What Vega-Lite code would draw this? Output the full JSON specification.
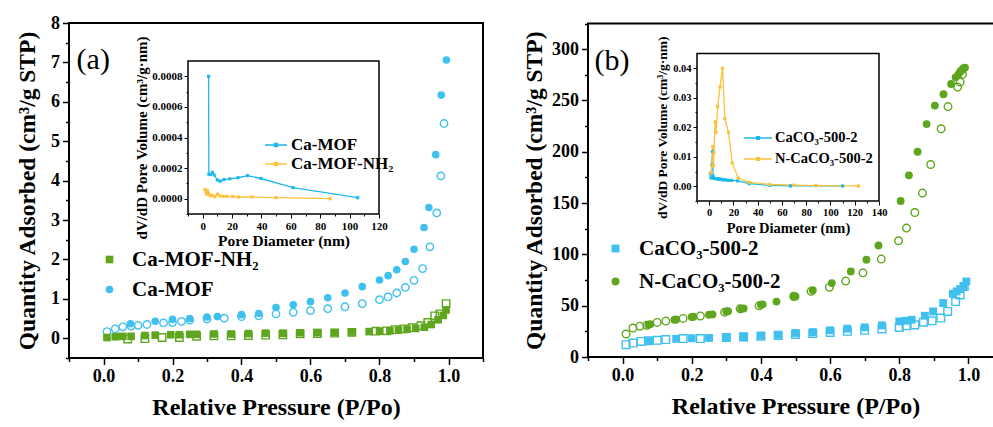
{
  "$schema": "https://vega.github.io/schema/vega-lite/v6.json",
  "width": 993,
  "height": 427,
  "autosize": "none",
  "padding": 0,
  "background": "white",
  "config": {
    "view": {"stroke": null},
    "axis": {"labelFont": "Liberation Serif", "titleFont": "Liberation Serif", "labelColor": "black", "titleColor": "black", "tickColor": "black", "labelFontWeight": "bold", "titleFontWeight": "bold", "grid": false, "domain": false, "labelFlush": false, "labelOverlap": false},
    "legend": {"labelFont": "Liberation Serif", "labelFontWeight": "bold", "labelColor": "black", "padding": 0}
  },
  "datasets": {
    "mainA": [
      {"p":0.078,"q":0.37,"s":"Ca-MOF","b":"ads"},{"p":0.15,"q":0.43,"s":"Ca-MOF","b":"ads"},{"p":0.20,"q":0.48,"s":"Ca-MOF","b":"ads"},{"p":0.25,"q":0.50,"s":"Ca-MOF","b":"ads"},{"p":0.30,"q":0.54,"s":"Ca-MOF","b":"ads"},{"p":0.33,"q":0.55,"s":"Ca-MOF","b":"ads"},{"p":0.40,"q":0.60,"s":"Ca-MOF","b":"ads"},{"p":0.45,"q":0.63,"s":"Ca-MOF","b":"ads"},{"p":0.50,"q":0.78,"s":"Ca-MOF","b":"ads"},{"p":0.55,"q":0.85,"s":"Ca-MOF","b":"ads"},{"p":0.60,"q":0.93,"s":"Ca-MOF","b":"ads"},{"p":0.65,"q":1.03,"s":"Ca-MOF","b":"ads"},{"p":0.70,"q":1.15,"s":"Ca-MOF","b":"ads"},{"p":0.75,"q":1.31,"s":"Ca-MOF","b":"ads"},{"p":0.80,"q":1.48,"s":"Ca-MOF","b":"ads"},{"p":0.825,"q":1.59,"s":"Ca-MOF","b":"ads"},{"p":0.85,"q":1.74,"s":"Ca-MOF","b":"ads"},{"p":0.875,"q":1.95,"s":"Ca-MOF","b":"ads"},{"p":0.90,"q":2.26,"s":"Ca-MOF","b":"ads"},{"p":0.929,"q":2.81,"s":"Ca-MOF","b":"ads"},{"p":0.943,"q":3.32,"s":"Ca-MOF","b":"ads"},{"p":0.963,"q":4.66,"s":"Ca-MOF","b":"ads"},{"p":0.979,"q":6.17,"s":"Ca-MOF","b":"ads"},{"p":0.994,"q":7.06,"s":"Ca-MOF","b":"ads"},
      {"p":0.01,"q":0.17,"s":"Ca-MOF","b":"des"},{"p":0.034,"q":0.24,"s":"Ca-MOF","b":"des"},{"p":0.056,"q":0.29,"s":"Ca-MOF","b":"des"},{"p":0.08,"q":0.31,"s":"Ca-MOF","b":"des"},{"p":0.10,"q":0.33,"s":"Ca-MOF","b":"des"},{"p":0.126,"q":0.35,"s":"Ca-MOF","b":"des"},{"p":0.174,"q":0.39,"s":"Ca-MOF","b":"des"},{"p":0.20,"q":0.40,"s":"Ca-MOF","b":"des"},{"p":0.226,"q":0.43,"s":"Ca-MOF","b":"des"},{"p":0.25,"q":0.46,"s":"Ca-MOF","b":"des"},{"p":0.30,"q":0.49,"s":"Ca-MOF","b":"des"},{"p":0.35,"q":0.51,"s":"Ca-MOF","b":"des"},{"p":0.40,"q":0.55,"s":"Ca-MOF","b":"des"},{"p":0.45,"q":0.57,"s":"Ca-MOF","b":"des"},{"p":0.50,"q":0.62,"s":"Ca-MOF","b":"des"},{"p":0.55,"q":0.66,"s":"Ca-MOF","b":"des"},{"p":0.60,"q":0.70,"s":"Ca-MOF","b":"des"},{"p":0.65,"q":0.75,"s":"Ca-MOF","b":"des"},{"p":0.70,"q":0.80,"s":"Ca-MOF","b":"des"},{"p":0.75,"q":0.88,"s":"Ca-MOF","b":"des"},{"p":0.80,"q":0.98,"s":"Ca-MOF","b":"des"},{"p":0.825,"q":1.05,"s":"Ca-MOF","b":"des"},{"p":0.85,"q":1.15,"s":"Ca-MOF","b":"des"},{"p":0.875,"q":1.29,"s":"Ca-MOF","b":"des"},{"p":0.90,"q":1.47,"s":"Ca-MOF","b":"des"},{"p":0.925,"q":1.77,"s":"Ca-MOF","b":"des"},{"p":0.946,"q":2.32,"s":"Ca-MOF","b":"des"},{"p":0.966,"q":3.18,"s":"Ca-MOF","b":"des"},{"p":0.978,"q":4.12,"s":"Ca-MOF","b":"des"},{"p":0.987,"q":5.45,"s":"Ca-MOF","b":"des"},
      {"p":0.01,"q":0.02,"s":"Ca-MOF-NH₂","b":"ads"},{"p":0.034,"q":0.04,"s":"Ca-MOF-NH₂","b":"ads"},{"p":0.056,"q":0.05,"s":"Ca-MOF-NH₂","b":"ads"},{"p":0.08,"q":0.05,"s":"Ca-MOF-NH₂","b":"ads"},{"p":0.12,"q":0.07,"s":"Ca-MOF-NH₂","b":"ads"},{"p":0.15,"q":0.08,"s":"Ca-MOF-NH₂","b":"ads"},{"p":0.195,"q":0.09,"s":"Ca-MOF-NH₂","b":"ads"},{"p":0.22,"q":0.09,"s":"Ca-MOF-NH₂","b":"ads"},{"p":0.25,"q":0.10,"s":"Ca-MOF-NH₂","b":"ads"},{"p":0.27,"q":0.10,"s":"Ca-MOF-NH₂","b":"ads"},{"p":0.32,"q":0.11,"s":"Ca-MOF-NH₂","b":"ads"},{"p":0.37,"q":0.11,"s":"Ca-MOF-NH₂","b":"ads"},{"p":0.42,"q":0.12,"s":"Ca-MOF-NH₂","b":"ads"},{"p":0.47,"q":0.13,"s":"Ca-MOF-NH₂","b":"ads"},{"p":0.52,"q":0.13,"s":"Ca-MOF-NH₂","b":"ads"},{"p":0.57,"q":0.14,"s":"Ca-MOF-NH₂","b":"ads"},{"p":0.62,"q":0.15,"s":"Ca-MOF-NH₂","b":"ads"},{"p":0.67,"q":0.15,"s":"Ca-MOF-NH₂","b":"ads"},{"p":0.72,"q":0.16,"s":"Ca-MOF-NH₂","b":"ads"},{"p":0.77,"q":0.17,"s":"Ca-MOF-NH₂","b":"ads"},{"p":0.80,"q":0.18,"s":"Ca-MOF-NH₂","b":"ads"},{"p":0.83,"q":0.19,"s":"Ca-MOF-NH₂","b":"ads"},{"p":0.855,"q":0.21,"s":"Ca-MOF-NH₂","b":"ads"},{"p":0.88,"q":0.23,"s":"Ca-MOF-NH₂","b":"ads"},{"p":0.905,"q":0.25,"s":"Ca-MOF-NH₂","b":"ads"},{"p":0.93,"q":0.28,"s":"Ca-MOF-NH₂","b":"ads"},{"p":0.95,"q":0.35,"s":"Ca-MOF-NH₂","b":"ads"},{"p":0.97,"q":0.47,"s":"Ca-MOF-NH₂","b":"ads"},{"p":0.985,"q":0.58,"s":"Ca-MOF-NH₂","b":"ads"},{"p":0.993,"q":0.72,"s":"Ca-MOF-NH₂","b":"ads"},
      {"p":0.07,"q":-0.02,"s":"Ca-MOF-NH₂","b":"des"},{"p":0.12,"q":-0.01,"s":"Ca-MOF-NH₂","b":"des"},{"p":0.17,"q":0.02,"s":"Ca-MOF-NH₂","b":"des"},{"p":0.22,"q":0.02,"s":"Ca-MOF-NH₂","b":"des"},{"p":0.27,"q":0.05,"s":"Ca-MOF-NH₂","b":"des"},{"p":0.32,"q":0.06,"s":"Ca-MOF-NH₂","b":"des"},{"p":0.37,"q":0.06,"s":"Ca-MOF-NH₂","b":"des"},{"p":0.42,"q":0.07,"s":"Ca-MOF-NH₂","b":"des"},{"p":0.47,"q":0.08,"s":"Ca-MOF-NH₂","b":"des"},{"p":0.52,"q":0.09,"s":"Ca-MOF-NH₂","b":"des"},{"p":0.57,"q":0.11,"s":"Ca-MOF-NH₂","b":"des"},{"p":0.62,"q":0.12,"s":"Ca-MOF-NH₂","b":"des"},{"p":0.67,"q":0.13,"s":"Ca-MOF-NH₂","b":"des"},{"p":0.72,"q":0.15,"s":"Ca-MOF-NH₂","b":"des"},{"p":0.79,"q":0.18,"s":"Ca-MOF-NH₂","b":"des"},{"p":0.82,"q":0.19,"s":"Ca-MOF-NH₂","b":"des"},{"p":0.845,"q":0.22,"s":"Ca-MOF-NH₂","b":"des"},{"p":0.87,"q":0.24,"s":"Ca-MOF-NH₂","b":"des"},{"p":0.895,"q":0.27,"s":"Ca-MOF-NH₂","b":"des"},{"p":0.92,"q":0.32,"s":"Ca-MOF-NH₂","b":"des"},{"p":0.94,"q":0.40,"s":"Ca-MOF-NH₂","b":"des"},{"p":0.96,"q":0.57,"s":"Ca-MOF-NH₂","b":"des"},{"p":0.975,"q":0.62,"s":"Ca-MOF-NH₂","b":"des"},{"p":0.993,"q":0.88,"s":"Ca-MOF-NH₂","b":"des"}
    ],
    "mainB": [
      {"p":0.075,"q":31.5,"s":"N-CaCO₃-500-2","b":"ads"},{"p":0.08,"q":32,"s":"N-CaCO₃-500-2","b":"ads"},{"p":0.15,"q":36.3,"s":"N-CaCO₃-500-2","b":"ads"},{"p":0.155,"q":36.5,"s":"N-CaCO₃-500-2","b":"ads"},{"p":0.20,"q":39,"s":"N-CaCO₃-500-2","b":"ads"},{"p":0.205,"q":39.2,"s":"N-CaCO₃-500-2","b":"ads"},{"p":0.25,"q":41.2,"s":"N-CaCO₃-500-2","b":"ads"},{"p":0.26,"q":41.5,"s":"N-CaCO₃-500-2","b":"ads"},{"p":0.30,"q":44.4,"s":"N-CaCO₃-500-2","b":"ads"},{"p":0.305,"q":44.6,"s":"N-CaCO₃-500-2","b":"ads"},{"p":0.343,"q":47,"s":"N-CaCO₃-500-2","b":"ads"},{"p":0.35,"q":47.3,"s":"N-CaCO₃-500-2","b":"ads"},{"p":0.40,"q":51,"s":"N-CaCO₃-500-2","b":"ads"},{"p":0.405,"q":51.3,"s":"N-CaCO₃-500-2","b":"ads"},{"p":0.445,"q":54,"s":"N-CaCO₃-500-2","b":"ads"},{"p":0.495,"q":59.7,"s":"N-CaCO₃-500-2","b":"ads"},{"p":0.50,"q":59,"s":"N-CaCO₃-500-2","b":"ads"},{"p":0.55,"q":65,"s":"N-CaCO₃-500-2","b":"ads"},{"p":0.605,"q":72,"s":"N-CaCO₃-500-2","b":"ads"},{"p":0.66,"q":83.4,"s":"N-CaCO₃-500-2","b":"ads"},{"p":0.705,"q":94.8,"s":"N-CaCO₃-500-2","b":"ads"},{"p":0.74,"q":108.7,"s":"N-CaCO₃-500-2","b":"ads"},{"p":0.804,"q":152,"s":"N-CaCO₃-500-2","b":"ads"},{"p":0.828,"q":177,"s":"N-CaCO₃-500-2","b":"ads"},{"p":0.853,"q":200,"s":"N-CaCO₃-500-2","b":"ads"},{"p":0.879,"q":227,"s":"N-CaCO₃-500-2","b":"ads"},{"p":0.903,"q":245,"s":"N-CaCO₃-500-2","b":"ads"},{"p":0.928,"q":256,"s":"N-CaCO₃-500-2","b":"ads"},{"p":0.95,"q":266,"s":"N-CaCO₃-500-2","b":"ads"},{"p":0.963,"q":272.5,"s":"N-CaCO₃-500-2","b":"ads"},{"p":0.971,"q":275.4,"s":"N-CaCO₃-500-2","b":"ads"},{"p":0.976,"q":278,"s":"N-CaCO₃-500-2","b":"ads"},{"p":0.981,"q":279.8,"s":"N-CaCO₃-500-2","b":"ads"},{"p":0.986,"q":281.4,"s":"N-CaCO₃-500-2","b":"ads"},{"p":0.99,"q":282,"s":"N-CaCO₃-500-2","b":"ads"},
      {"p":0.01,"q":22.4,"s":"N-CaCO₃-500-2","b":"des"},{"p":0.03,"q":28.2,"s":"N-CaCO₃-500-2","b":"des"},{"p":0.05,"q":30,"s":"N-CaCO₃-500-2","b":"des"},{"p":0.07,"q":31,"s":"N-CaCO₃-500-2","b":"des"},{"p":0.10,"q":33.7,"s":"N-CaCO₃-500-2","b":"des"},{"p":0.125,"q":35,"s":"N-CaCO₃-500-2","b":"des"},{"p":0.175,"q":37.6,"s":"N-CaCO₃-500-2","b":"des"},{"p":0.225,"q":40,"s":"N-CaCO₃-500-2","b":"des"},{"p":0.295,"q":43.7,"s":"N-CaCO₃-500-2","b":"des"},{"p":0.34,"q":46.9,"s":"N-CaCO₃-500-2","b":"des"},{"p":0.395,"q":50,"s":"N-CaCO₃-500-2","b":"des"},{"p":0.495,"q":59,"s":"N-CaCO₃-500-2","b":"des"},{"p":0.545,"q":64,"s":"N-CaCO₃-500-2","b":"des"},{"p":0.598,"q":68,"s":"N-CaCO₃-500-2","b":"des"},{"p":0.645,"q":74,"s":"N-CaCO₃-500-2","b":"des"},{"p":0.695,"q":82,"s":"N-CaCO₃-500-2","b":"des"},{"p":0.748,"q":95.4,"s":"N-CaCO₃-500-2","b":"des"},{"p":0.798,"q":113.3,"s":"N-CaCO₃-500-2","b":"des"},{"p":0.821,"q":125.6,"s":"N-CaCO₃-500-2","b":"des"},{"p":0.845,"q":140.8,"s":"N-CaCO₃-500-2","b":"des"},{"p":0.867,"q":159.7,"s":"N-CaCO₃-500-2","b":"des"},{"p":0.891,"q":187.6,"s":"N-CaCO₃-500-2","b":"des"},{"p":0.921,"q":222.4,"s":"N-CaCO₃-500-2","b":"des"},{"p":0.941,"q":244,"s":"N-CaCO₃-500-2","b":"des"},{"p":0.969,"q":263,"s":"N-CaCO₃-500-2","b":"des"},{"p":0.976,"q":268,"s":"N-CaCO₃-500-2","b":"des"},{"p":0.983,"q":275.4,"s":"N-CaCO₃-500-2","b":"des"},
      {"p":0.075,"q":15.5,"s":"CaCO₃-500-2","b":"ads"},{"p":0.155,"q":17.7,"s":"CaCO₃-500-2","b":"ads"},{"p":0.20,"q":18.3,"s":"CaCO₃-500-2","b":"ads"},{"p":0.25,"q":18.6,"s":"CaCO₃-500-2","b":"ads"},{"p":0.30,"q":19.5,"s":"CaCO₃-500-2","b":"ads"},{"p":0.35,"q":20.1,"s":"CaCO₃-500-2","b":"ads"},{"p":0.40,"q":20.8,"s":"CaCO₃-500-2","b":"ads"},{"p":0.45,"q":21.8,"s":"CaCO₃-500-2","b":"ads"},{"p":0.50,"q":23.4,"s":"CaCO₃-500-2","b":"ads"},{"p":0.55,"q":24.3,"s":"CaCO₃-500-2","b":"ads"},{"p":0.60,"q":26,"s":"CaCO₃-500-2","b":"ads"},{"p":0.65,"q":27.6,"s":"CaCO₃-500-2","b":"ads"},{"p":0.70,"q":28.9,"s":"CaCO₃-500-2","b":"ads"},{"p":0.75,"q":30.8,"s":"CaCO₃-500-2","b":"ads"},{"p":0.80,"q":34.7,"s":"CaCO₃-500-2","b":"ads"},{"p":0.817,"q":35.3,"s":"CaCO₃-500-2","b":"ads"},{"p":0.836,"q":36.3,"s":"CaCO₃-500-2","b":"ads"},{"p":0.874,"q":40.2,"s":"CaCO₃-500-2","b":"ads"},{"p":0.898,"q":44.4,"s":"CaCO₃-500-2","b":"ads"},{"p":0.927,"q":52.6,"s":"CaCO₃-500-2","b":"ads"},{"p":0.955,"q":61.6,"s":"CaCO₃-500-2","b":"ads"},{"p":0.966,"q":63.9,"s":"CaCO₃-500-2","b":"ads"},{"p":0.976,"q":66.2,"s":"CaCO₃-500-2","b":"ads"},{"p":0.986,"q":68.8,"s":"CaCO₃-500-2","b":"ads"},{"p":0.994,"q":73.6,"s":"CaCO₃-500-2","b":"ads"},
      {"p":0.01,"q":12,"s":"CaCO₃-500-2","b":"des"},{"p":0.03,"q":13.6,"s":"CaCO₃-500-2","b":"des"},{"p":0.053,"q":15.2,"s":"CaCO₃-500-2","b":"des"},{"p":0.075,"q":15.9,"s":"CaCO₃-500-2","b":"des"},{"p":0.10,"q":16.3,"s":"CaCO₃-500-2","b":"des"},{"p":0.125,"q":17,"s":"CaCO₃-500-2","b":"des"},{"p":0.175,"q":18,"s":"CaCO₃-500-2","b":"des"},{"p":0.225,"q":18,"s":"CaCO₃-500-2","b":"des"},{"p":0.30,"q":19,"s":"CaCO₃-500-2","b":"des"},{"p":0.35,"q":19.5,"s":"CaCO₃-500-2","b":"des"},{"p":0.40,"q":20.2,"s":"CaCO₃-500-2","b":"des"},{"p":0.45,"q":21,"s":"CaCO₃-500-2","b":"des"},{"p":0.50,"q":22,"s":"CaCO₃-500-2","b":"des"},{"p":0.55,"q":23,"s":"CaCO₃-500-2","b":"des"},{"p":0.60,"q":24,"s":"CaCO₃-500-2","b":"des"},{"p":0.65,"q":25,"s":"CaCO₃-500-2","b":"des"},{"p":0.70,"q":26,"s":"CaCO₃-500-2","b":"des"},{"p":0.75,"q":27.4,"s":"CaCO₃-500-2","b":"des"},{"p":0.80,"q":28.8,"s":"CaCO₃-500-2","b":"des"},{"p":0.82,"q":30.4,"s":"CaCO₃-500-2","b":"des"},{"p":0.845,"q":31.3,"s":"CaCO₃-500-2","b":"des"},{"p":0.87,"q":33.9,"s":"CaCO₃-500-2","b":"des"},{"p":0.895,"q":35.3,"s":"CaCO₃-500-2","b":"des"},{"p":0.92,"q":37.9,"s":"CaCO₃-500-2","b":"des"},{"p":0.94,"q":44.4,"s":"CaCO₃-500-2","b":"des"},{"p":0.963,"q":54,"s":"CaCO₃-500-2","b":"des"},{"p":0.976,"q":60.5,"s":"CaCO₃-500-2","b":"des"},{"p":0.988,"q":68.6,"s":"CaCO₃-500-2","b":"des"}
    ],
    "insetA": [
      {"d":4.0,"v":0.0008,"s":"Ca-MOF"},{"d":4.2,"v":0.00016,"s":"Ca-MOF"},{"d":5.3,"v":0.000158,"s":"Ca-MOF"},{"d":6.6,"v":0.000172,"s":"Ca-MOF"},{"d":7.8,"v":0.000155,"s":"Ca-MOF"},{"d":10,"v":0.000122,"s":"Ca-MOF"},{"d":12,"v":0.000115,"s":"Ca-MOF"},{"d":14.5,"v":0.000125,"s":"Ca-MOF"},{"d":18.5,"v":0.00013,"s":"Ca-MOF"},{"d":24,"v":0.000137,"s":"Ca-MOF"},{"d":30.5,"v":0.000151,"s":"Ca-MOF"},{"d":39.7,"v":0.000132,"s":"Ca-MOF"},{"d":61.5,"v":0.000072,"s":"Ca-MOF"},{"d":105.5,"v":0.0000066,"s":"Ca-MOF"},
      {"d":1.6,"v":0.00006,"s":"Ca-MOF-NH₂"},{"d":2.2,"v":0.000045,"s":"Ca-MOF-NH₂"},{"d":2.8,"v":0.00003,"s":"Ca-MOF-NH₂"},{"d":3.3,"v":0.000052,"s":"Ca-MOF-NH₂"},{"d":4.0,"v":0.000033,"s":"Ca-MOF-NH₂"},{"d":5.0,"v":0.00002,"s":"Ca-MOF-NH₂"},{"d":6.5,"v":0.000022,"s":"Ca-MOF-NH₂"},{"d":8.3,"v":0.000012,"s":"Ca-MOF-NH₂"},{"d":10,"v":0.00003,"s":"Ca-MOF-NH₂"},{"d":11.7,"v":0.000018,"s":"Ca-MOF-NH₂"},{"d":14,"v":0.000016,"s":"Ca-MOF-NH₂"},{"d":16.5,"v":0.000015,"s":"Ca-MOF-NH₂"},{"d":20.5,"v":0.000015,"s":"Ca-MOF-NH₂"},{"d":24.5,"v":0.000011,"s":"Ca-MOF-NH₂"},{"d":33.5,"v":0.000011,"s":"Ca-MOF-NH₂"},{"d":49.8,"v":0.000007,"s":"Ca-MOF-NH₂"},{"d":86.7,"v":0.0,"s":"Ca-MOF-NH₂"}
    ],
    "insetB": [
      {"d":1.0,"v":0.0043,"s":"CaCO₃-500-2"},{"d":1.5,"v":0.0028,"s":"CaCO₃-500-2"},{"d":2.2,"v":0.0072,"s":"CaCO₃-500-2"},{"d":2.8,"v":0.0118,"s":"CaCO₃-500-2"},{"d":3.2,"v":0.0035,"s":"CaCO₃-500-2"},{"d":3.6,"v":0.0028,"s":"CaCO₃-500-2"},{"d":4.2,"v":0.0027,"s":"CaCO₃-500-2"},{"d":5,"v":0.0026,"s":"CaCO₃-500-2"},{"d":6,"v":0.0026,"s":"CaCO₃-500-2"},{"d":7,"v":0.0025,"s":"CaCO₃-500-2"},{"d":8,"v":0.0024,"s":"CaCO₃-500-2"},{"d":9,"v":0.0024,"s":"CaCO₃-500-2"},{"d":10,"v":0.0023,"s":"CaCO₃-500-2"},{"d":11,"v":0.0022,"s":"CaCO₃-500-2"},{"d":12.5,"v":0.0022,"s":"CaCO₃-500-2"},{"d":14,"v":0.0021,"s":"CaCO₃-500-2"},{"d":16,"v":0.002,"s":"CaCO₃-500-2"},{"d":18.5,"v":0.002,"s":"CaCO₃-500-2"},{"d":23.5,"v":0.0018,"s":"CaCO₃-500-2"},{"d":33,"v":0.0009,"s":"CaCO₃-500-2"},{"d":50,"v":0.0003,"s":"CaCO₃-500-2"},{"d":67,"v":0.0001,"s":"CaCO₃-500-2"},{"d":110,"v":0.0001,"s":"CaCO₃-500-2"},
      {"d":1.5,"v":0.0045,"s":"N-CaCO₃-500-2"},{"d":2.5,"v":0.007,"s":"N-CaCO₃-500-2"},{"d":3.0,"v":0.0135,"s":"N-CaCO₃-500-2"},{"d":3.5,"v":0.007,"s":"N-CaCO₃-500-2"},{"d":4.0,"v":0.0115,"s":"N-CaCO₃-500-2"},{"d":5.0,"v":0.0218,"s":"N-CaCO₃-500-2"},{"d":5.6,"v":0.0183,"s":"N-CaCO₃-500-2"},{"d":7.0,"v":0.027,"s":"N-CaCO₃-500-2"},{"d":9.0,"v":0.0337,"s":"N-CaCO₃-500-2"},{"d":11.0,"v":0.04,"s":"N-CaCO₃-500-2"},{"d":13.0,"v":0.0229,"s":"N-CaCO₃-500-2"},{"d":16.0,"v":0.0183,"s":"N-CaCO₃-500-2"},{"d":19.0,"v":0.0079,"s":"N-CaCO₃-500-2"},{"d":24.0,"v":0.0028,"s":"N-CaCO₃-500-2"},{"d":33.0,"v":0.0013,"s":"N-CaCO₃-500-2"},{"d":50.0,"v":0.0006,"s":"N-CaCO₃-500-2"},{"d":70.0,"v":0.0004,"s":"N-CaCO₃-500-2"},{"d":88.0,"v":0.0002,"s":"N-CaCO₃-500-2"},{"d":123.0,"v":0.0001,"s":"N-CaCO₃-500-2"}
    ]
  },
  "layer": [
    {
      "data": {"values": [{}]},
      "mark": {"type": "rect", "fill": "transparent", "stroke": "black", "strokeWidth": 2},
      "encoding": {
        "x": {"datum": -0.1, "type": "quantitative", "scale": {"domain": [-0.1, 1.1], "range": [69, 483], "zero": false, "nice": false},
          "axis": {"orient": "bottom", "offset": -69, "values": [-0.1,0.1,0.3,0.5,0.7,0.9,1.1], "labels": false, "title": null, "tickSize": 3.5, "tickWidth": 1.5}},
        "x2": {"datum": 1.1},
        "y": {"datum": -0.5, "type": "quantitative", "scale": {"domain": [-0.5, 8], "range": [358, 23], "zero": false, "nice": false},
          "axis": {"orient": "left", "offset": -69, "values": [-0.5,0.5,1.5,2.5,3.5,4.5,5.5,6.5,7.5], "labels": false, "title": null, "tickSize": 3.5, "tickWidth": 1.5}},
        "y2": {"datum": 8}
      }
    },
    {
      "data": {"values": [{}]},
      "mark": {"type": "text", "text": "(a)", "font": "Liberation Serif", "fontSize": 30, "align": "left", "baseline": "middle", "color": "black"},
      "encoding": {
        "x": {"datum": -0.078, "type": "quantitative", "scale": {"domain": [-0.1, 1.1], "range": [69, 483], "zero": false, "nice": false}, "axis": null},
        "y": {"datum": 7.05, "type": "quantitative", "scale": {"domain": [-0.5, 8], "range": [358, 23], "zero": false, "nice": false}, "axis": null}
      }
    },
    {
      "data": {"name": "mainA"},
      "transform": [{"filter": "datum.b === 'des'"}],
      "mark": {"type": "point", "filled": false, "strokeWidth": 1.4, "opacity": 1, "size": 55},
      "encoding": {
        "x": {"field": "p", "type": "quantitative", "scale": {"domain": [-0.1, 1.1], "range": [69, 483], "zero": false, "nice": false},
          "axis": {"orient": "bottom", "offset": -69, "values": [0,0.2,0.4,0.6,0.8,1], "format": ".1f", "tickSize": 6.5, "tickWidth": 1.5, "labelFontSize": 18, "labelPadding": 3, "title": "Relative Pressure (P/Po)", "titleFontSize": 24, "titlePadding": 10}},
        "y": {"field": "q", "type": "quantitative", "scale": {"domain": [-0.5, 8], "range": [358, 23], "zero": false, "nice": false},
          "axis": {"orient": "left", "offset": -69, "values": [0,1,2,3,4,5,6,7,8], "format": "d", "tickSize": 6.5, "tickWidth": 1.5, "labelFontSize": 18, "labelPadding": 3, "title": "Quantity Adsorbed (cm³/g STP)", "titleFontSize": 23.5, "titlePadding": 11}},
        "color": {"field": "s", "type": "nominal", "scale": {"domain": ["Ca-MOF-NH₂", "Ca-MOF"], "range": ["#5ea61e", "#40c0ee"]}, "legend": null},
        "shape": {"field": "s", "type": "nominal", "scale": {"domain": ["Ca-MOF-NH₂", "Ca-MOF"], "range": ["square", "circle"]}, "legend": null}
      }
    },
    {
      "data": {"name": "mainA"},
      "transform": [{"filter": "datum.b === 'ads'"}],
      "mark": {"type": "point", "filled": true, "opacity": 1, "size": 58},
      "encoding": {
        "x": {"field": "p", "type": "quantitative", "scale": {"domain": [-0.1, 1.1], "range": [69, 483], "zero": false, "nice": false}, "axis": null},
        "y": {"field": "q", "type": "quantitative", "scale": {"domain": [-0.5, 8], "range": [358, 23], "zero": false, "nice": false}, "axis": null},
        "color": {"field": "s", "type": "nominal", "scale": {"domain": ["Ca-MOF-NH₂", "Ca-MOF"], "range": ["#5ea61e", "#40c0ee"]},
          "legend": {"orient": "none", "legendX": 99, "legendY": 249, "title": null, "labelFontSize": 21, "symbolSize": 58, "labelOffset": 12, "rowPadding": 8, "symbolStrokeWidth": 0}},
        "shape": {"field": "s", "type": "nominal", "scale": {"domain": ["Ca-MOF-NH₂", "Ca-MOF"], "range": ["square", "circle"]},
          "legend": {"orient": "none", "legendX": 99, "legendY": 249, "title": null, "labelFontSize": 21, "symbolSize": 58, "labelOffset": 12, "rowPadding": 8, "symbolStrokeWidth": 0}}
      }
    },
    {
      "data": {"values": [{}]},
      "mark": {"type": "rect", "fill": "white", "stroke": "black", "strokeWidth": 1.5},
      "encoding": {
        "x": {"datum": -10, "type": "quantitative", "scale": {"domain": [-10, 120], "range": [188, 379], "zero": false, "nice": false},
          "axis": {"orient": "bottom", "offset": -213, "values": [-10,10,30,50,70,90,110], "labels": false, "title": null, "tickSize": 2, "tickWidth": 1}},
        "x2": {"datum": 120},
        "y": {"datum": -0.0001, "type": "quantitative", "scale": {"domain": [-0.0001, 0.0009], "range": [214, 61], "zero": false, "nice": false},
          "axis": {"orient": "left", "offset": -188, "values": [-0.0001,0.0001,0.0003,0.0005,0.0007], "labels": false, "title": null, "tickSize": 2, "tickWidth": 1}},
        "y2": {"datum": 0.0009}
      }
    },
    {
      "data": {"name": "insetA"},
      "mark": {"type": "line", "strokeWidth": 1.3},
      "encoding": {
        "x": {"field": "d", "type": "quantitative", "scale": {"domain": [-10, 120], "range": [188, 379], "zero": false, "nice": false},
          "axis": {"orient": "bottom", "offset": -213, "values": [0,20,40,60,80,100,120], "format": "d", "tickSize": 4, "tickWidth": 1, "labelFontSize": 11, "labelPadding": 2, "title": "Pore Diameter (nm)", "titleFontSize": 15.5, "titlePadding": 2}},
        "y": {"field": "v", "type": "quantitative", "scale": {"domain": [-0.0001, 0.0009], "range": [214, 61], "zero": false, "nice": false},
          "axis": {"orient": "left", "offset": -188, "values": [0,0.0002,0.0004,0.0006,0.0008], "format": ".4f", "tickSize": 4, "tickWidth": 1, "labelFontSize": 11, "labelPadding": 2, "title": "dV/dD Pore Volume (cm³/g·nm)", "titleFontSize": 15, "titlePadding": 2}},
        "color": {"field": "s", "type": "nominal", "scale": {"domain": ["Ca-MOF", "Ca-MOF-NH₂"], "range": ["#1db9ec", "#fbc13a"]}, "legend": null}
      }
    },
    {
      "data": {"name": "insetA"},
      "mark": {"type": "point", "filled": true, "shape": "square", "size": 10, "opacity": 1},
      "encoding": {
        "x": {"field": "d", "type": "quantitative", "scale": {"domain": [-10, 120], "range": [188, 379], "zero": false, "nice": false}, "axis": null},
        "y": {"field": "v", "type": "quantitative", "scale": {"domain": [-0.0001, 0.0009], "range": [214, 61], "zero": false, "nice": false}, "axis": null},
        "color": {"field": "s", "type": "nominal", "scale": {"domain": ["Ca-MOF", "Ca-MOF-NH₂"], "range": ["#1db9ec", "#fbc13a"]},
          "legend": {"orient": "none", "legendX": 265, "legendY": 134, "title": null, "labelFontSize": 17, "symbolType": "M-1,-0.065L1,-0.065L1,0.065L-1,0.065Z M-0.2,-0.2L0.2,-0.2L0.2,0.2L-0.2,0.2Z", "symbolSize": 484, "labelOffset": 4, "rowPadding": -5, "symbolStrokeWidth": 0}}
      }
    },
    {
      "data": {"values": [{}]},
      "mark": {"type": "rect", "fill": "transparent", "stroke": "black", "strokeWidth": 2},
      "encoding": {
        "x": {"datum": -0.1, "type": "quantitative", "scale": {"domain": [-0.1, 1.1], "range": [588, 1003], "zero": false, "nice": false},
          "axis": {"orient": "bottom", "offset": -70, "values": [-0.1,0.1,0.3,0.5,0.7,0.9], "labels": false, "title": null, "tickSize": 3.5, "tickWidth": 1.5}},
        "x2": {"datum": 1.1},
        "y": {"datum": 0, "type": "quantitative", "scale": {"domain": [0, 325], "range": [357, 23.5], "zero": false, "nice": false},
          "axis": {"orient": "left", "offset": -588, "values": [25,75,125,175,225,275,325], "labels": false, "title": null, "tickSize": 3.5, "tickWidth": 1.5}},
        "y2": {"datum": 325}
      }
    },
    {
      "data": {"values": [{}]},
      "mark": {"type": "text", "text": "(b)", "font": "Liberation Serif", "fontSize": 30, "align": "left", "baseline": "middle", "color": "black"},
      "encoding": {
        "x": {"datum": -0.081, "type": "quantitative", "scale": {"domain": [-0.1, 1.1], "range": [588, 1003], "zero": false, "nice": false}, "axis": null},
        "y": {"datum": 288, "type": "quantitative", "scale": {"domain": [0, 325], "range": [357, 23.5], "zero": false, "nice": false}, "axis": null}
      }
    },
    {
      "data": {"name": "mainB"},
      "transform": [{"filter": "datum.b === 'des'"}],
      "mark": {"type": "point", "filled": false, "strokeWidth": 1.4, "opacity": 1, "size": 58},
      "encoding": {
        "x": {"field": "p", "type": "quantitative", "scale": {"domain": [-0.1, 1.1], "range": [588, 1003], "zero": false, "nice": false},
          "axis": {"orient": "bottom", "offset": -70, "values": [0,0.2,0.4,0.6,0.8,1], "format": ".1f", "tickSize": 6.5, "tickWidth": 1.5, "labelFontSize": 18, "labelPadding": 3, "title": "Relative Pressure (P/Po)", "titleFontSize": 24, "titlePadding": 10}},
        "y": {"field": "q", "type": "quantitative", "scale": {"domain": [0, 325], "range": [357, 23.5], "zero": false, "nice": false},
          "axis": {"orient": "left", "offset": -588, "values": [0,50,100,150,200,250,300], "format": "d", "tickSize": 6.5, "tickWidth": 1.5, "labelFontSize": 18, "labelPadding": 3, "title": "Quantity Adsorbed (cm³/g STP)", "titleFontSize": 23.5, "titlePadding": 5}},
        "color": {"field": "s", "type": "nominal", "scale": {"domain": ["CaCO₃-500-2", "N-CaCO₃-500-2"], "range": ["#40c0ee", "#5ea61e"]}, "legend": null},
        "shape": {"field": "s", "type": "nominal", "scale": {"domain": ["CaCO₃-500-2", "N-CaCO₃-500-2"], "range": ["square", "circle"]}, "legend": null}
      }
    },
    {
      "data": {"name": "mainB"},
      "transform": [{"filter": "datum.b === 'ads'"}],
      "mark": {"type": "point", "filled": true, "opacity": 1, "size": 62},
      "encoding": {
        "x": {"field": "p", "type": "quantitative", "scale": {"domain": [-0.1, 1.1], "range": [588, 1003], "zero": false, "nice": false}, "axis": null},
        "y": {"field": "q", "type": "quantitative", "scale": {"domain": [0, 325], "range": [357, 23.5], "zero": false, "nice": false}, "axis": null},
        "color": {"field": "s", "type": "nominal", "scale": {"domain": ["CaCO₃-500-2", "N-CaCO₃-500-2"], "range": ["#40c0ee", "#5ea61e"]},
          "legend": {"orient": "none", "legendX": 605, "legendY": 238, "title": null, "labelFontSize": 21, "symbolSize": 62, "labelOffset": 13, "rowPadding": 11, "symbolStrokeWidth": 0}},
        "shape": {"field": "s", "type": "nominal", "scale": {"domain": ["CaCO₃-500-2", "N-CaCO₃-500-2"], "range": ["square", "circle"]},
          "legend": {"orient": "none", "legendX": 605, "legendY": 238, "title": null, "labelFontSize": 21, "symbolSize": 62, "labelOffset": 13, "rowPadding": 11, "symbolStrokeWidth": 0}}
      }
    },
    {
      "data": {"values": [{}]},
      "mark": {"type": "rect", "fill": "white", "stroke": "black", "strokeWidth": 1.5},
      "encoding": {
        "x": {"datum": -10, "type": "quantitative", "scale": {"domain": [-10, 140], "range": [697, 879], "zero": false, "nice": false},
          "axis": {"orient": "bottom", "offset": -226, "values": [-10,10,30,50,70,90,110,130], "labels": false, "title": null, "tickSize": 2, "tickWidth": 1}},
        "x2": {"datum": 140},
        "y": {"datum": -0.005, "type": "quantitative", "scale": {"domain": [-0.005, 0.045], "range": [201, 53.5], "zero": false, "nice": false},
          "axis": {"orient": "left", "offset": -697, "values": [-0.005,0.005,0.015,0.025,0.035], "labels": false, "title": null, "tickSize": 2, "tickWidth": 1}},
        "y2": {"datum": 0.045}
      }
    },
    {
      "data": {"name": "insetB"},
      "mark": {"type": "line", "strokeWidth": 1.3},
      "encoding": {
        "x": {"field": "d", "type": "quantitative", "scale": {"domain": [-10, 140], "range": [697, 879], "zero": false, "nice": false},
          "axis": {"orient": "bottom", "offset": -226, "values": [0,20,40,60,80,100,120,140], "format": "d", "tickSize": 4, "tickWidth": 1, "labelFontSize": 10.5, "labelPadding": 2, "title": "Pore Diameter (nm)", "titleFontSize": 14.5, "titlePadding": 4}},
        "y": {"field": "v", "type": "quantitative", "scale": {"domain": [-0.005, 0.045], "range": [201, 53.5], "zero": false, "nice": false},
          "axis": {"orient": "left", "offset": -697, "values": [0,0.01,0.02,0.03,0.04], "format": ".2f", "tickSize": 4, "tickWidth": 1, "labelFontSize": 10.5, "labelPadding": 2, "title": "dV/dD Pore Volume (cm³/g·nm)", "titleFontSize": 13.5, "titlePadding": 3}},
        "color": {"field": "s", "type": "nominal", "scale": {"domain": ["CaCO₃-500-2", "N-CaCO₃-500-2"], "range": ["#1db9ec", "#fbc13a"]}, "legend": null}
      }
    },
    {
      "data": {"name": "insetB"},
      "mark": {"type": "point", "filled": true, "shape": "square", "size": 10, "opacity": 1},
      "encoding": {
        "x": {"field": "d", "type": "quantitative", "scale": {"domain": [-10, 140], "range": [697, 879], "zero": false, "nice": false}, "axis": null},
        "y": {"field": "v", "type": "quantitative", "scale": {"domain": [-0.005, 0.045], "range": [201, 53.5], "zero": false, "nice": false}, "axis": null},
        "color": {"field": "s", "type": "nominal", "scale": {"domain": ["CaCO₃-500-2", "N-CaCO₃-500-2"], "range": ["#1db9ec", "#fbc13a"]},
          "legend": {"orient": "none", "legendX": 744, "legendY": 124, "title": null, "labelFontSize": 14.5, "symbolType": "M-1,-0.05L1,-0.05L1,0.05L-1,0.05Z M-0.15,-0.15L0.15,-0.15L0.15,0.15L-0.15,0.15Z", "symbolSize": 784, "labelOffset": 3, "rowPadding": -8, "symbolStrokeWidth": 0}}
      }
    }
  ],
  "resolve": {
    "scale": {"x": "independent", "y": "independent", "color": "independent", "shape": "independent"},
    "axis": {"x": "independent", "y": "independent"},
    "legend": {"color": "independent", "shape": "independent"}
  }
}
